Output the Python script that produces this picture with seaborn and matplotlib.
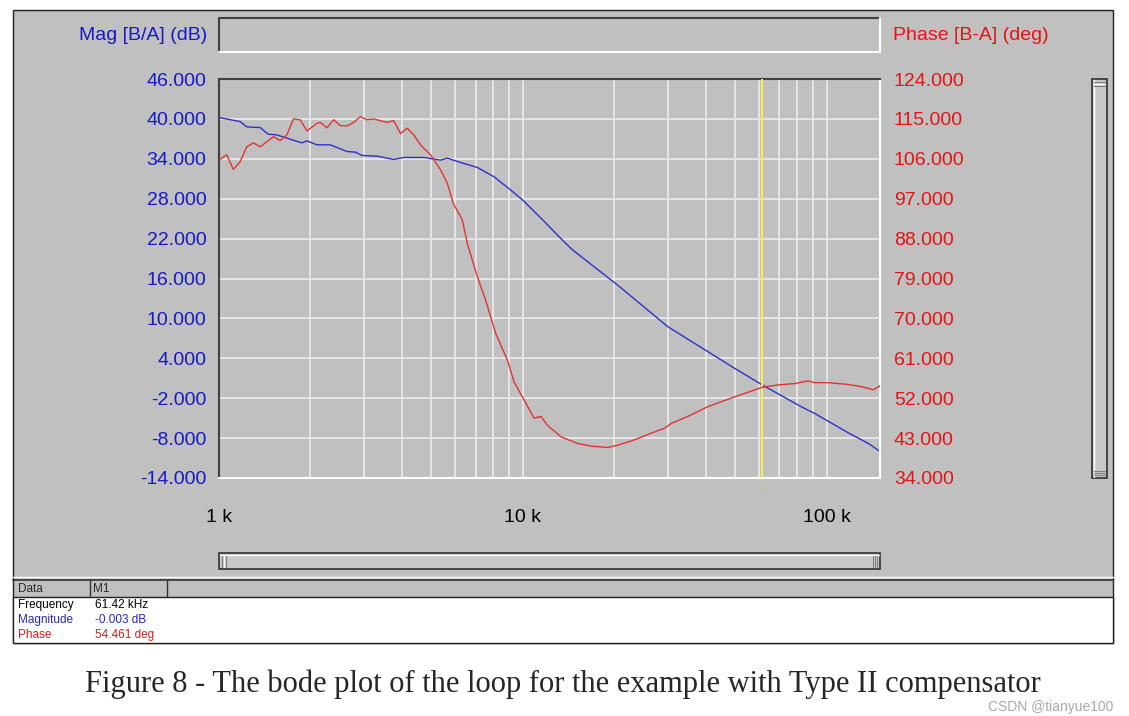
import matplotlib
matplotlib.use("Agg")
import matplotlib.pyplot as plt
import numpy as np
import seaborn as sns
from matplotlib.lines import Line2D
from matplotlib.patches import Rectangle
from matplotlib.ticker import FixedLocator, LogLocator, NullFormatter

# --- data ---
mag_freq_khz = [1.000, 1.173, 1.234, 1.366, 1.451, 1.550, 1.755, 1.875, 1.947, 2.101,
                2.325, 2.639, 2.811, 2.958, 3.315, 3.761, 4.058, 4.724, 5.363, 5.643,
                6.087, 7.088, 8.040, 9.130, 10.10, 11.76, 13.35, 14.59, 20.54, 30.03,
                40.70, 49.80, 61.42, 82.70, 91.50, 117.9, 137.3, 150.0]
mag_db = [40.2, 39.6, 38.8, 38.7, 37.7, 37.6, 36.8, 36.4, 36.7, 36.1,
          36.1, 35.1, 35.0, 34.5, 34.4, 33.9, 34.2, 34.2, 33.8, 34.1,
          33.6, 32.7, 31.3, 29.3, 27.6, 24.6, 22.0, 20.3, 15.0, 8.75,
          5.0, 2.5, -0.003, -3.3, -4.3, -7.2, -8.8, -10.0]

phase_freq_khz = [1.000, 1.060, 1.115, 1.173, 1.234, 1.298, 1.366, 1.511, 1.589, 1.673,
                  1.759, 1.851, 1.947, 2.101, 2.154, 2.267, 2.384, 2.508, 2.639, 2.775,
                  2.920, 3.072, 3.229, 3.577, 3.761, 3.957, 4.164, 4.378, 4.607, 4.971,
                  5.363, 5.643, 5.900, 6.324, 6.569, 7.088, 7.549, 8.146, 8.902, 9.360,
                  10.10, 10.90, 11.47, 12.06, 13.35, 15.15, 16.76, 19.03, 20.54, 23.30,
                  26.45, 29.27, 30.80, 34.97, 40.70, 45.03, 49.80, 56.55, 61.42, 69.30,
                  78.60, 87.00, 91.50, 101.3, 117.9, 130.5, 142.6, 150.0]
phase_deg = [105.7, 106.9, 103.6, 105.3, 108.7, 109.6, 108.7, 111.0, 110.1, 111.4,
             115.0, 114.8, 112.3, 114.0, 114.2, 113.0, 114.8, 113.5, 113.4, 114.2,
             115.5, 114.8, 115.0, 114.2, 114.6, 111.7, 112.9, 111.4, 109.1, 106.9,
             103.5, 100.5, 96.0, 92.2, 86.9, 79.4, 74.1, 66.6, 60.6, 55.7,
             51.6, 47.5, 47.9, 45.9, 43.3, 41.8, 41.2, 40.9, 41.4, 42.6,
             44.1, 45.2, 46.3, 47.9, 50.1, 51.2, 52.3, 53.6, 54.461, 55.0,
             55.3, 55.9, 55.5, 55.5, 55.1, 54.6, 53.9, 54.8]

mag_ticks = [-14, -8, -2, 4, 10, 16, 22, 28, 34, 40, 46]
phase_ticks = [34, 43, 52, 61, 70, 79, 88, 97, 106, 115, 124]
freq_ticks_khz = [1, 10, 100]
freq_tick_labels = ["1 k", "10 k", "100 k"]

cursor_freq_khz = 61.42
cursor_mag_db = -0.003
cursor_phase_deg = 54.461

caption = "Figure 8 - The bode plot of the loop for the example with Type II compensator"

# --- styling ---
sns.set_style("white")
plt.rcParams["font.family"] = ["Liberation Sans", "DejaVu Sans"]

W, H = 1129, 716
GREY = "#c0c0c0"
DARK = "#404040"
BLUE = "#1818c8"
RED = "#e41414"


def fx(x):
    return x / W


def fy(y):
    return 1 - y / H


def px_rect(x0, y0, x1, y1):
    return [fx(x0), fy(y1), (x1 - x0) / W, (y1 - y0) / H]


def hline(fig, x0, x1, y, color, lw=1.0):
    fig.add_artist(Line2D([fx(x0), fx(x1)], [fy(y), fy(y)], color=color, lw=lw))


def vline(fig, x, y0, y1, color, lw=1.0):
    fig.add_artist(Line2D([fx(x), fx(x)], [fy(y0), fy(y1)], color=color, lw=lw))


def bevel(fig, x0, y0, x1, y1, dark=DARK, light="white", lw=1.5):
    """Sunken 3D box: dark top/left edge, light bottom/right edge."""
    hline(fig, x0, x1, y0, dark, lw)
    vline(fig, x0, y0, y1, dark, lw)
    hline(fig, x0, x1, y1, light, lw)
    vline(fig, x1, y0, y1, light, lw)


fig = plt.figure(figsize=(W / 100, H / 100), dpi=100)
fig.patch.set_facecolor("white")

# window frame (kept behind the axes)
fig.add_artist(Rectangle((fx(13), fy(643)), 1100 / W, 633 / H, transform=fig.transFigure,
                         facecolor=GREY, edgecolor="#202020", lw=1.0, zorder=-10))

# header strip above plot
bevel(fig, 219, 18, 880, 52)

# main axes
ax = fig.add_axes(px_rect(219, 79, 880, 478))
ax.set_facecolor(GREY)
sns.lineplot(x=mag_freq_khz, y=mag_db, ax=ax, color="#3030c8", lw=1.0)
ax.set_xscale("log")
ax.set_xlim(1, 150)
ax.set_ylim(mag_ticks[0], mag_ticks[-1])
ax.set_yticks(mag_ticks, labels=[f"{v:.3f}" for v in mag_ticks])
ax.xaxis.set_major_locator(FixedLocator(freq_ticks_khz))
ax.set_xticklabels(freq_tick_labels)
ax.xaxis.set_minor_locator(LogLocator(base=10, subs=np.arange(2, 10)))
ax.xaxis.set_minor_formatter(NullFormatter())
ax.tick_params(axis="y", colors=BLUE, labelsize=14, length=0, pad=9)
ax.tick_params(axis="x", which="both", colors="black", labelsize=14, length=0, pad=22)
ax.grid(True, which="major", axis="both", color="#ececec", lw=1.2)
ax.grid(True, which="minor", axis="x", color="#ececec", lw=1.2)
ax.set_axisbelow(True)
for side in ("top", "left"):
    ax.spines[side].set_color(DARK)
    ax.spines[side].set_linewidth(1.5)
for side in ("bottom", "right"):
    ax.spines[side].set_color("white")
    ax.spines[side].set_linewidth(1.5)

ax2 = ax.twinx()
sns.lineplot(x=phase_freq_khz, y=phase_deg, ax=ax2, color="#e03434", lw=1.0)
ax2.set_ylim(phase_ticks[0], phase_ticks[-1])
ax2.set_yticks(phase_ticks, labels=[f"{v:.3f}" for v in phase_ticks])
ax2.tick_params(axis="y", colors=RED, labelsize=14, length=0, pad=10)
for s in ax2.spines.values():
    s.set_visible(False)
ax.set_xlabel("")
ax.set_ylabel("")
ax2.set_ylabel("")

# cursor
ax2.axvline(cursor_freq_khz, color="#f4f050", lw=1.5, zorder=0.5)
ax.text(cursor_freq_khz, -0.03, "1", transform=ax.get_xaxis_transform(), ha="center",
        va="center", fontsize=6, color="#c8c060")

fig.text(fx(207), fy(35), "Mag [B/A] (dB)", ha="right", va="center", fontsize=14, color=BLUE)
fig.text(fx(893), fy(35), "Phase [B-A] (deg)", ha="left", va="center", fontsize=14, color=RED)

# horizontal scrollbar
fig.add_artist(Rectangle((fx(219), fy(569)), 661 / W, 16 / H, transform=fig.transFigure,
                         facecolor="#c8c8c8", edgecolor="#303030", lw=1.2))
hline(fig, 220, 879, 555, "white", 1.0)
for x in (222, 224, 226, 873, 875, 877):
    vline(fig, x, 556, 567, "#808080" if x % 4 else "white", 0.8)

# vertical scrollbar
fig.add_artist(Rectangle((fx(1092), fy(478)), 15 / W, 399 / H, transform=fig.transFigure,
                         facecolor="#c8c8c8", edgecolor="#303030", lw=1.2))
vline(fig, 1094, 80, 477, "white", 1.0)
for y in (82, 84, 86, 471, 473, 475):
    hline(fig, 1094, 1105, y, "#808080" if y % 4 else "white", 0.8)

# data table
hline(fig, 13, 1113, 577, "white", 1.0)
hline(fig, 13, 1113, 580, "#303030", 1.2)
fig.add_artist(Rectangle((fx(13), fy(643)), 1100 / W, 46 / H, transform=fig.transFigure,
                         facecolor="white", edgecolor="#202020", lw=1.0))
vline(fig, 90, 580, 597, "#303030", 1.0)
vline(fig, 167, 580, 597, "#303030", 1.0)

fig.text(fx(18), fy(589), "Data", fontsize=8.5, va="center")
fig.text(fx(93), fy(589), "M1", fontsize=8.5, va="center")
rows = [
    ("Frequency", f"{cursor_freq_khz:.2f} kHz", "black"),
    ("Magnitude", f"{cursor_mag_db:.3f} dB", "#2828b4"),
    ("Phase", f"{cursor_phase_deg:.3f} deg", "#d81c1c"),
]
for i, (name, value, color) in enumerate(rows):
    y = 605 + 15 * i
    fig.text(fx(18), fy(y), name, fontsize=8.5, va="center", color=color)
    fig.text(fx(95), fy(y), value, fontsize=8.5, va="center", color=color)

# caption + watermark (watermark tucked just under the caption's tail)
fig.text(fx(563), fy(684), caption, ha="center", va="center", fontsize=22,
         family=["Liberation Serif", "DejaVu Serif"])
fig.text(fx(1113), fy(707), "CSDN @tianyue100", ha="right", va="center", fontsize=10,
         color="#a8a8a8")

fig.savefig("out.png", dpi=100)
